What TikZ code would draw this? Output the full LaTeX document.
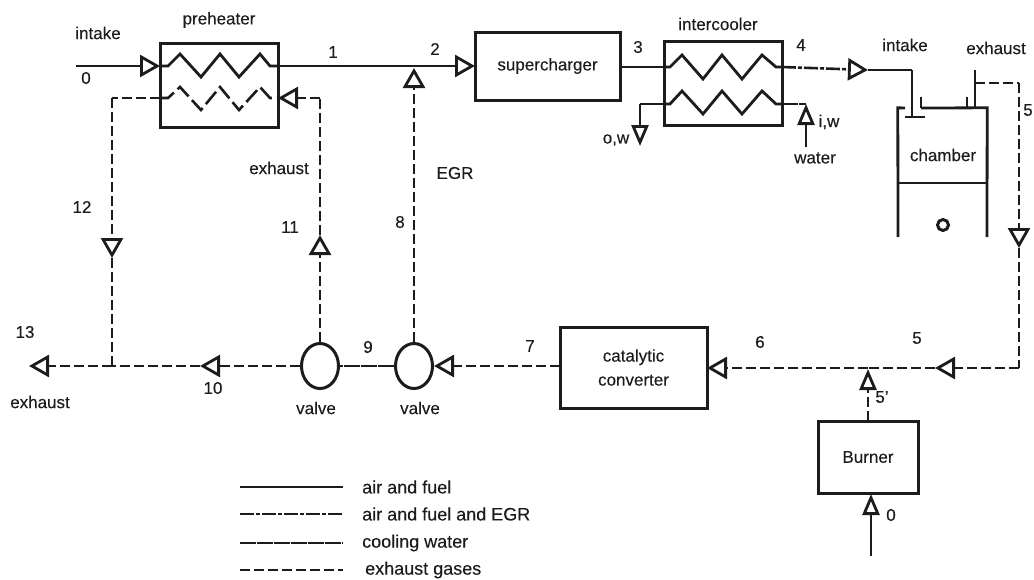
\documentclass[tikz,border=0pt]{standalone}
\usepackage{fontspec}
\setmainfont[FakeBold=0.25]{Liberation Sans}
\usetikzlibrary{arrows.meta,shapes.geometric}
\definecolor{ink}{HTML}{1C1C1C}
\tikzset{
  lab/.style={inner sep=0pt,text=ink,font=\fontsize{17}{24}\selectfont,align=center},
  leg/.style={inner sep=0pt,text=ink,font=\fontsize{18}{24}\selectfont,anchor=west},
  box/.style={draw=ink,line width=3pt,inner sep=0pt,lab},
  vlv/.style={draw=ink,ellipse,line width=3pt,inner sep=0pt,minimum width=37pt,minimum height=45pt},
  air/.style={draw=ink,line width=2.8pt},
  mix/.style={draw=ink,line width=2.6pt,dash pattern=on 14pt off 2pt on 4pt off 2pt},
  water/.style={draw=ink,line width=2.6pt,dash pattern=on 16pt off 1pt},
  exh/.style={draw=ink,line width=2.6pt,dash pattern=on 10pt off 4pt},
  tip/.style={-{Triangle[open,length=20pt,width=22pt,line width=2.8pt]}},
  tipsmall/.style={-{Triangle[open,length=21pt,width=17pt,line width=2.8pt]}},
}
\begin{document}
\begin{tikzpicture}[x=1pt,y=-1pt]
\useasboundingbox (0,0) rectangle (1034,579);
% equipment
\node[box,minimum width=118pt,minimum height=84pt] (pre) at (219,85) {};
\node[box,minimum width=145pt,minimum height=68pt] (sup) at (547.5,66) {supercharger};
\node[box,minimum width=118pt,minimum height=84pt] (int) at (723,83) {};
\node[box,minimum width=147pt,minimum height=81pt] (cat) at (633.5,367.5) {catalytic\\converter};
\node[box,minimum width=100pt,minimum height=72pt] (bur) at (868,457) {Burner};
\node[vlv] (v1) at (320,366) {};
\node[vlv] (v2) at (414,366) {};
\node[inner sep=0pt,minimum width=89pt,minimum height=75pt] (cham) at (942.5,145.5) {};
\node[lab] (chamt) at (943,155) {chamber};
\node[draw=ink,circle,line width=3pt,minimum size=11pt,inner sep=0pt] (pist) at (943,225) {};
% chamber walls
\coordinate (cTopGapL) at (905,108);
\coordinate (cTopGapR) at (921,108);
\coordinate (cWallL) at (898,237);
\coordinate (cWallR) at (987,237);
\coordinate (cMidL) at (898,183);
\coordinate (cMidR) at (987,183);
\draw[air] (cTopGapL) -- (cham.north west) -- (cWallL);
\draw[air] (cTopGapR) -- (cham.north east) -- (cWallR);
\draw[air] (cMidL) -- (cMidR);
% poppet valves
\coordinate (iv) at (912,70);
\coordinate (ivb) at (912,117);
\coordinate (ivfl) at (905,117);
\coordinate (ivfr) at (925,117);
\coordinate (ivs) at (921,97);
\coordinate (ev) at (975,70);
\coordinate (evb) at (975,108);
\coordinate (evs) at (967,97);
\coordinate (evsb) at (967,108);
\draw[air] (iv) -- (ivb);
\draw[air] (ivfl) -- (ivfr);
\draw[air] (ivs) -- (cTopGapR);
\draw[air] (ev) -- (evb);
\draw[air] (evs) -- (evsb);
% coordinates of the flow
\coordinate (in0) at (76,66);
\coordinate (preIn) at (160,66);
\coordinate (preOut) at (278,66);
\coordinate (preHotIn) at (278,98);
\coordinate (preHotOut) at (160,98);
\coordinate (j2) at (414,66);
\coordinate (supIn) at (475,66);
\coordinate (supOut) at (620,67);
\coordinate (intIn) at (664,67);
\coordinate (intOut) at (782,67);
\coordinate (wIn) at (782,104);
\coordinate (wOut) at (664,104);
\coordinate (c4) at (868,70);
\coordinate (eOut) at (975,83);
\coordinate (eC) at (1019,83);
\coordinate (eTip) at (1019,248);
\coordinate (eCorner) at (1019,368);
\coordinate (tip5) at (935,368);
\coordinate (j5) at (868,368);
\coordinate (catIn) at (707,368);
\coordinate (catOut) at (560,366);
\coordinate (v2In) at (434,366);
\coordinate (tip10) at (200,366);
\coordinate (j12) at (112,366);
\coordinate (out13) at (29,366);
\coordinate (c98r) at (320,98);
\coordinate (c98l) at (112,98);
\coordinate (tip12) at (112,258);
\coordinate (tip11) at (320,235);
\coordinate (tipEgr) at (414,68);
\coordinate (bIn) at (871,556);
\coordinate (bTip) at (871,494);
\coordinate (tip5p) at (868,369);
\coordinate (bOut) at (868,421);
\coordinate (wL) at (640,104);
\coordinate (wTipL) at (640,146);
\coordinate (wR) at (806,104);
\coordinate (wTail) at (806,147);
% flows
\draw[air,tip] (in0) -- (preIn);
\draw[air] (preOut) -- (j2);
\draw[air,tip] (j2) -- (supIn);
\draw[air] (supOut) -- (intIn);
\draw[mix,tip] (intOut) -- (c4);
\draw[air] (c4) -- (iv);
\draw[water] (wIn) -- (wR);
\draw[air,tipsmall] (wTail) -- (wR);
\draw[air] (wOut) -- (wL);
\draw[air,tipsmall] (wL) -- (wTipL);
\draw[exh] (ev |- eOut) -- (eC);
\draw[exh,tip] (eC) -- (eTip);
\draw[exh] (eTip) -- (eCorner);
\draw[exh,tip] (eCorner) -- (tip5);
\draw[exh] (tip5) -- (j5);
\draw[exh,tip] (j5) -- (catIn);
\draw[exh,tip] (catOut) -- (v2In);
\draw[water] (v2) -- (v1);
\draw[exh,tip] (v1.west) -- (tip10);
\draw[exh] (tip10) -- (j12);
\draw[exh,tip] (j12) -- (out13);
\draw[exh,tip] (v1.north) -- (tip11);
\draw[exh] (tip11) -- (c98r);
\draw[exh,tip] (c98r) -- (preHotIn);
\draw[exh] (preHotOut) -- (c98l);
\draw[exh,tip] (c98l) -- (tip12);
\draw[exh] (tip12) -- (j12);
\draw[exh,tip] (v2.north) -- (tipEgr);
\draw[exh,tipsmall] (bOut) -- (tip5p);
\draw[air,tipsmall] (bIn) -- (bTip);
% coils
\draw[air] (preIn) -- ++(8,0) -- ++(12,-12) -- ++(21,23) -- ++(19,-23) -- ++(19,23) -- ++(21,-23) -- ++(10,12) -- (preOut);
\draw[exh,dash pattern=on 16pt off 5pt] (preHotOut) -- ++(8,0) -- ++(12,-11) -- ++(21,23) -- ++(19,-23) -- ++(19,23) -- ++(21,-23) -- ++(10,11) -- (preHotIn);
\draw[air] (intIn) -- ++(6,0) -- ++(12,-12) -- ++(21,24) -- ++(19,-24) -- ++(20,24) -- ++(20,-24) -- ++(14,12) -- (intOut);
\draw[air] (wOut) -- ++(6,0) -- ++(12,-13) -- ++(21,23) -- ++(19,-23) -- ++(20,23) -- ++(20,-23) -- ++(14,13) -- (wIn);
% labels
\node[lab] (t1) at (98,33) {intake};
\node[lab] (t2) at (86,78) {0};
\node[lab] (t3) at (219,20) {preheater};
\node[lab] (t4) at (333,52) {1};
\node[lab] (t5) at (435,49) {2};
\node[lab] (t6) at (279,168) {exhaust};
\node[lab] (t7) at (455,173) {EGR};
\node[lab] (t8) at (82,207) {12};
\node[lab] (t9) at (290,227) {11};
\node[lab] (t10) at (400,222) {8};
\node[lab] (t11) at (638,47) {3};
\node[lab] (t12) at (801,45) {4};
\node[lab] (t13) at (905,45) {intake};
\node[lab] (t14) at (996,48) {exhaust};
\node[lab] (t15) at (718,24) {intercooler};
\node[lab] (t16) at (616,140) {o,w};
\node[lab] (t17) at (829,122) {i,w};
\node[lab] (t18) at (815,158) {water};
\node[lab] (t19) at (1028,110) {5};
\node[lab] (t20) at (25,332) {13};
\node[lab] (t21) at (40,402) {exhaust};
\node[lab] (t22) at (213,388) {10};
\node[lab] (t23) at (316,408) {valve};
\node[lab] (t24) at (420,408) {valve};
\node[lab] (t25) at (368,347) {9};
\node[lab] (t26) at (530,346) {7};
\node[lab] (t27) at (760,342) {6};
\node[lab] (t28) at (917,338) {5};
\node[lab] (t29) at (882,397) {5'};
\node[lab] (t30) at (891,515) {0};
% legend
\foreach \n/\y/\s/\t/\tx in {a/487/air/air and fuel/362,b/514/mix/air and fuel and EGR/362,c/543/water/cooling water/362,d/570/exh/exhaust gases/365}{
  \coordinate (l\n) at (240,\y);
  \coordinate (r\n) at (343,\y);
  \node[leg] (lt\n) at (\tx,\y) {\t};
  \draw[\s] (l\n) -- (r\n);
}
\end{tikzpicture}
\end{document}
